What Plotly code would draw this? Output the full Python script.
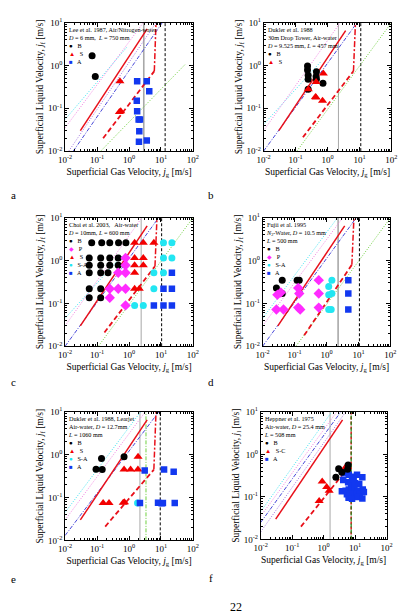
import plotly.graph_objects as go

# ---------------- data ----------------
TICK_X = [0.01, 0.1, 1, 10, 100]
TICK_X_TEXT = ["10<sup>-2</sup>", "10<sup>-1</sup>", "10<sup>0</sup>", "10<sup>1</sup>", "10<sup>2</sup>"]
TICK_Y = [0.01, 0.1, 1, 10]
TICK_Y_TEXT = ["10<sup>-2</sup>", "10<sup>-1</sup>", "10<sup>0</sup>", "10<sup>1</sup>"]

# panel a  (Lee et al. 1987)
a_B_x = [0.07, 0.088]
a_B_y = [1.7, 0.55]
a_S_x = [0.52, 0.50, 0.55]
a_S_y = [0.43, 0.082, 0.085]
a_A_x = [1.8, 3.6, 4.3, 1.75, 1.8, 2.0, 2.2, 2.1, 2.05, 3.6]
a_A_y = [0.43, 0.43, 0.25, 0.15, 0.085, 0.055, 0.055, 0.029, 0.0165, 0.0178]

# panel b  (Dukler et al. 1988, drop tower)
b_B_x = [0.237, 0.237, 0.248, 0.248, 0.45, 0.44, 0.72, 0.248, 0.45]
b_B_y = [0.97, 0.78, 0.59, 0.475, 0.71, 0.55, 0.385, 0.28, 0.48]
b_S_x = [0.74, 0.44, 0.25, 0.42, 0.44, 0.70]
b_S_y = [0.65, 0.41, 0.28, 0.185, 0.18, 0.15]

# panel c  (Choi et al. 2003)
c_B_x = [0.068, 0.14, 0.25, 0.47, 0.8, 0.057, 0.13, 0.25, 0.46, 0.057, 0.13, 0.25, 0.46, 0.057, 0.13, 0.22, 0.057, 0.13, 0.057, 0.13]
c_B_y = [2.6, 2.6, 2.6, 2.6, 2.6, 1.15, 1.15, 1.15, 1.15, 0.78, 0.78, 0.78, 0.78, 0.52, 0.52, 0.52, 0.22, 0.22, 0.136, 0.136]
c_P_x = [0.78, 0.78, 0.46, 0.78, 0.25, 0.46, 0.78, 0.25, 0.78]
c_P_y = [1.15, 0.78, 0.52, 0.52, 0.22, 0.22, 0.22, 0.136, 0.09]
c_S_x = [1.5, 2.8, 6.0, 1.5, 2.8, 1.5, 2.8, 1.5, 1.5, 2.1]
c_S_y = [2.6, 2.6, 2.6, 1.15, 1.15, 0.78, 0.78, 0.52, 0.22, 0.22]
c_SA_x = [12, 22, 12, 22, 6.0, 12, 6.0, 1.5, 2.8]
c_SA_y = [2.6, 2.6, 1.15, 1.15, 0.52, 0.52, 0.22, 0.09, 0.09]
c_A_x = [22, 12, 22, 6.0, 12, 22]
c_A_y = [0.52, 0.22, 0.22, 0.09, 0.09, 0.09]

# panel d  (Fujii et al. 1995)
d_B_x = [0.041, 0.027, 0.041, 0.12, 0.14]
d_B_y = [0.35, 0.23, 0.17, 0.35, 0.35]
d_P_x = [0.029, 0.037, 0.027, 0.045, 0.13, 0.14, 0.13, 0.15, 0.57, 0.57, 0.57]
d_P_y = [0.16, 0.18, 0.072, 0.072, 0.23, 0.17, 0.08, 0.072, 0.35, 0.17, 0.08]
d_SA_x = [1.47, 1.17, 1.47, 1.17, 1.4, 1.17]
d_SA_y = [0.35, 0.25, 0.17, 0.16, 0.072, 0.072]
d_A_x = [4.8, 4.8, 4.8]
d_A_y = [0.35, 0.17, 0.072]

# panel e  (Dukler et al. 1988, Learjet)
e_B_x = [0.138, 0.70, 0.093, 0.145]
e_B_y = [0.82, 0.90, 0.46, 0.45]
e_S_x = [1.92, 0.70, 1.12, 1.9, 0.155, 0.237, 0.66, 0.72]
e_S_y = [0.90, 0.45, 0.45, 0.45, 0.075, 0.075, 0.076, 0.078]
e_SA_x = [1.85]
e_SA_y = [0.075]
e_A_x = [3.1, 12.5, 25, 2.2, 8.1, 10.5, 11.5, 27]
e_A_y = [0.43, 0.45, 0.40, 0.075, 0.076, 0.074, 0.075, 0.075]

# panel f  (Heppner et al. 1975)
f_B_x = [2.45, 3.0, 3.8, 5.8, 6.0]
f_B_y = [0.29, 0.46, 0.38, 0.45, 0.56]
f_S_x = [0.9, 1.25, 1.5, 0.72, 5.0]
f_S_y = [0.23, 0.17, 0.14, 0.08, 0.5]
f_A_x = [4.6, 5.2, 6.3, 8.0, 11.5, 17, 6.0, 7.5, 10, 13.5, 3.8, 5.0, 6.3, 8.0, 9.5, 12.5, 17.5, 5.5, 7.0, 8.5, 11, 14, 19, 6.2, 8.0, 12.5, 17, 9.0, 4.2]
f_A_y = [0.36, 0.40, 0.33, 0.30, 0.33, 0.29, 0.22, 0.20, 0.21, 0.20, 0.135, 0.14, 0.15, 0.14, 0.16, 0.14, 0.15, 0.115, 0.12, 0.11, 0.12, 0.115, 0.13, 0.095, 0.09, 0.10, 0.092, 0.26, 0.25]

# transition lines [x0, x1], [y0, y1]
a_cyan = ([0.01, 0.9], [0.055, 2.8])
a_pink = ([0.01, 2.8], [0.035, 10])
a_red = ([0.03, 3.7], [0.03, 7.2])
a_purple = ([0.013, 7.0], [0.01, 10])
a_blue = ([0.018, 11.0], [0.01, 10])
a_rdash = ([0.155, 6.2], [0.02, 0.74])
a_rvert = ([6.2, 7.0], [0.74, 10])
a_green = ([0.13, 60], [0.01, 1.1])
a_gray = 2.9
a_black = 13.5

b_cyan = ([0.01, 0.6], [0.042, 1.2])
b_pink = ([0.01, 2.5], [0.03, 10])
b_red = ([0.03, 3.7], [0.03, 6.5])
b_blue = ([0.01, 8.0], [0.01, 9.5])
b_rdash = ([0.17, 6.5], [0.021, 0.74])
b_rvert = ([6.5, 7.5], [0.74, 10])
b_green = ([0.11, 100], [0.01, 10])
b_gray = 2.2
b_black = 11

c_cyan = ([0.01, 0.6], [0.045, 1.3])
c_pink = ([0.01, 2.5], [0.03, 10])
c_red = ([0.03, 3.7], [0.03, 6.5])
c_blue = ([0.01, 8.0], [0.01, 9.5])
c_rdash = ([0.17, 6.5], [0.021, 0.74])
c_rvert = ([6.5, 7.5], [0.74, 10])
c_green = ([0.11, 100], [0.01, 10])
c_gray = 2.4
c_black = 10.5

d_cyan = ([0.01, 2.2], [0.045, 10])
d_pink = ([0.01, 3.2], [0.03, 10])
d_red = ([0.03, 3.7], [0.03, 6.5])
d_blue = ([0.01, 8.5], [0.01, 10])
d_rdash = ([0.2, 6.2], [0.018, 0.8])
d_rvert = ([6.2, 7.2], [0.8, 10])
d_green = ([0.11, 100], [0.01, 10])
d_gray = 2.3
d_black = 10.7

e_cyan = ([0.01, 2.3], [0.045, 10])
e_pink = ([0.01, 3.2], [0.03, 10])
e_red = ([0.03, 3.7], [0.03, 6.5])
e_blue = ([0.01, 8.5], [0.013, 10])
e_rdash = ([0.18, 6.0], [0.021, 0.45])
e_rvert = ([6.0, 7.0], [0.45, 10])
e_green_v = 3.4
e_gray = 2.2
e_black = 9.5

f_cyan = ([0.01, 1.8], [0.045, 10])
f_pink = ([0.01, 2.6], [0.035, 10])
f_blue = ([0.01, 3.5], [0.025, 10])
f_red = ([0.03, 4.0], [0.03, 6.5])
f_purple = ([0.01, 5.0], [0.015, 10])
f_rdash = ([0.19, 7.5], [0.02, 0.6])
f_gray = 1.6
f_black = 7.5

# ---------------- styles ----------------
SERIF = "Liberation Serif"
COL_B = "#000000"
COL_S = "#f20000"
COL_A = "#1238f0"
COL_P = "#ff2bff"
COL_SA = "#22e6f2"

CYAN_L = "#3fe0f0"
PINK_L = "#f07ee0"
RED_L = "#e8101a"
PURP_L = "#a070e0"
BLUE_L = "#4848d8"
GREEN_L = "#70d040"
GRAY_L = "#a8a8a8"

DOT = "1px,1.6px"
DASHDOT = "4px,1.5px,1px,1.5px"
RDASH = "5px,3px"
RDASHDOT = "6px,2px,2px,2px"
KDASH = "3px,2px"

W, H = 410, 614
# plot boxes in pixels: (left, right, top, bottom)
BOXES = {
    1: (60, 192, 16, 147),
    2: (265, 397, 16, 147),
    3: (60, 192, 215, 346),
    4: (264, 396, 215, 346),
    5: (60, 192, 413, 544),
    6: (262, 392, 413, 543),
}

fig = go.Figure()


def ax_names(i):
    return ("x" if i == 1 else f"x{i}"), ("y" if i == 1 else f"y{i}")


def add_line(i, xy, color, dash, width=1.0):
    xa, ya = ax_names(i)
    fig.add_trace(go.Scatter(x=xy[0], y=xy[1], mode="lines", xaxis=xa, yaxis=ya,
                             line=dict(color=color, dash=dash, width=width),
                             showlegend=False, hoverinfo="skip"))


def add_vline(i, xv, color, dash, width=1.0):
    add_line(i, ([xv, xv], [0.01, 10]), color, dash, width)


def add_pts(i, xs, ys, color, symbol, size):
    xa, ya = ax_names(i)
    fig.add_trace(go.Scatter(x=xs, y=ys, mode="markers", xaxis=xa, yaxis=ya,
                             marker=dict(color=color, symbol=symbol, size=size, line=dict(width=0)),
                             showlegend=False))


# lines
for i, (cy, pk, rd, bl, rdash, rvert, gr, gy, bk) in {
    1: (a_cyan, a_pink, a_red, a_blue, a_rdash, a_rvert, a_green, a_gray, a_black),
    2: (b_cyan, b_pink, b_red, b_blue, b_rdash, b_rvert, b_green, b_gray, b_black),
    3: (c_cyan, c_pink, c_red, c_blue, c_rdash, c_rvert, c_green, c_gray, c_black),
    4: (d_cyan, d_pink, d_red, d_blue, d_rdash, d_rvert, d_green, d_gray, d_black),
}.items():
    add_vline(i, gy, GRAY_L, "solid", 1.6 if i in (1, 4) else 1.0)
    add_vline(i, bk, "#000000", KDASH, 1.0)
    add_line(i, cy, CYAN_L, DOT)
    add_line(i, pk, PINK_L, DOT)
    add_line(i, bl, BLUE_L, DASHDOT)
    add_line(i, gr, GREEN_L, DOT)
    add_line(i, rd, RED_L, "solid", 1.5)
    add_line(i, rdash, RED_L, RDASH, 1.8)
    add_line(i, rvert, RED_L, RDASHDOT, 1.5)
add_line(1, a_purple, PURP_L, DOT)

# panel e
add_vline(5, e_gray, GRAY_L, "solid")
add_vline(5, e_black, "#000000", KDASH)
add_vline(5, e_green_v, GREEN_L, DASHDOT)
add_line(5, e_cyan, CYAN_L, DOT)
add_line(5, e_pink, PINK_L, DOT)
add_line(5, e_blue, BLUE_L, DASHDOT)
add_line(5, e_red, RED_L, "solid", 1.5)
add_line(5, e_rdash, RED_L, RDASH, 1.8)
add_line(5, e_rvert, RED_L, RDASHDOT, 1.5)

# panel f
add_vline(6, f_gray, GRAY_L, "solid")
add_line(6, f_cyan, CYAN_L, DOT)
add_line(6, f_pink, PINK_L, DOT)
add_line(6, f_blue, BLUE_L, DASHDOT)
add_line(6, f_purple, PURP_L, DOT)
add_line(6, f_red, RED_L, "solid", 1.5)
add_line(6, f_rdash, RED_L, RDASH, 1.8)
add_vline(6, f_black, RED_L, KDASH, 1.5)
add_vline(6, f_black, "#1a8a1a", "4px,2px", 1.2)

# points
add_pts(1, a_B_x, a_B_y, COL_B, "circle", 7)
add_pts(1, a_S_x, a_S_y, COL_S, "triangle-up", 8)
add_pts(1, a_A_x, a_A_y, COL_A, "square", 6.5)

add_pts(2, b_B_x, b_B_y, COL_B, "circle", 7)
add_pts(2, b_S_x, b_S_y, COL_S, "triangle-up", 8)

add_pts(3, c_B_x, c_B_y, COL_B, "circle", 7)
add_pts(3, c_P_x, c_P_y, COL_P, "diamond", 8)
add_pts(3, c_S_x, c_S_y, COL_S, "triangle-up", 8)
add_pts(3, c_SA_x, c_SA_y, COL_SA, "circle", 7)
add_pts(3, c_A_x, c_A_y, COL_A, "square", 6.5)

add_pts(4, d_B_x, d_B_y, COL_B, "circle", 7)
add_pts(4, d_P_x, d_P_y, COL_P, "diamond", 8)
add_pts(4, d_SA_x, d_SA_y, COL_SA, "circle", 7)
add_pts(4, d_A_x, d_A_y, COL_A, "square", 6.5)

add_pts(5, e_B_x, e_B_y, COL_B, "circle", 7)
add_pts(5, e_S_x, e_S_y, COL_S, "triangle-up", 8)
add_pts(5, e_SA_x, e_SA_y, COL_SA, "circle", 7)
add_pts(5, e_A_x, e_A_y, COL_A, "square", 6.5)

add_pts(6, f_A_x, f_A_y, COL_A, "square", 6.5)
add_pts(6, f_S_x, f_S_y, COL_S, "triangle-up", 8)
add_pts(6, f_B_x, f_B_y, COL_B, "circle", 7)

# axes
layout = dict(width=W, height=H, margin=dict(l=0, r=0, t=0, b=0),
              paper_bgcolor="white", plot_bgcolor="white", showlegend=False,
              font=dict(family=SERIF, color="black"))
for i, (l, r, t, b) in BOXES.items():
    xk = "xaxis" if i == 1 else f"xaxis{i}"
    yk = "yaxis" if i == 1 else f"yaxis{i}"
    xa, ya = ax_names(i)
    common = dict(type="log", showline=True, linecolor="black", linewidth=1, mirror="allticks",
                  ticks="inside", ticklen=4, tickwidth=0.8, tickcolor="black", showgrid=False,
                  zeroline=False, tickfont=dict(family=SERIF, size=9),
                  minor=dict(ticks="inside", ticklen=2, tickwidth=0.6, tickcolor="black", dtick="D1", showgrid=False))
    ylab = "Superficial Liquid Velocity, <i>j</i><sub>f</sub> [m/s]" if i != 6 else "Superficial Liquid Velocity, <i>j</i><sub>l</sub> [m/s]"
    layout[xk] = dict(common, domain=[l / W, r / W], range=[-2, 2], anchor=ya,
                      tickmode="array", tickvals=TICK_X, ticktext=TICK_X_TEXT,
                      title=dict(text="Superficial Gas Velocity, <i>j</i><sub>g</sub> [m/s]",
                                 font=dict(family=SERIF, size=9.5), standoff=4))
    layout[yk] = dict(common, domain=[1 - b / H, 1 - t / H], range=[-2, 1], anchor=xa,
                      tickmode="array", tickvals=TICK_Y, ticktext=TICK_Y_TEXT,
                      title=dict(text=ylab, font=dict(family=SERIF, size=9.5), standoff=2))

fig.update_layout(**layout)

# info boxes
def sym(c, s):
    return f"<span style='color:{c}'>{s}</span>"

INFO = {
    1: "Lee et al. 1987, Air/Nitrogen-water<br><i>D</i> = 6 mm,  <i>L</i> = 750 mm<br>"
       + sym(COL_B, "●") + "   B<br>" + sym(COL_S, "▲") + "   S<br>" + sym(COL_A, "■") + "   A",
    2: "Dukler et al. 1988<br>30m Drop Tower, Air-water<br><i>D</i> = 9.525 mm, <i>L</i> = 457 mm<br>"
       + sym(COL_B, "●") + "   B<br>" + sym(COL_S, "▲") + "   S",
    3: "Choi et al. 2003,   Air-water<br><i>D</i> = 10mm, <i>L</i> = 600 mm<br>"
       + sym(COL_B, "●") + "   B<br>" + sym(COL_P, "◆") + "   P<br>" + sym(COL_S, "▲") + "   S<br>"
       + sym(COL_SA, "●") + "   S-A<br>" + sym(COL_A, "■") + "   A",
    4: "Fujii et al. 1995<br><i>N</i><sub>2</sub>-Water, <i>D</i> = 10.5 mm<br><i>L</i> = 500 mm<br>"
       + sym(COL_B, "●") + "   B<br>" + sym(COL_P, "◆") + "   P<br>" + sym(COL_SA, "●") + "   S-A<br>"
       + sym(COL_A, "■") + "   A",
    5: "Dukler et al. 1988, Learjet<br>Air-water, <i>D</i> = 12.7mm<br><i>L</i> = 1060 mm<br>"
       + sym(COL_B, "●") + "   B<br>" + sym(COL_S, "▲") + "   S<br>" + sym(COL_SA, "●") + "   S-A<br>"
       + sym(COL_A, "■") + "   A",
    6: "Heppner et al. 1975<br>Air-water, <i>D</i> = 25.4 mm<br><i>L</i> = 508 mm<br>"
       + sym(COL_B, "●") + "   B<br>" + sym(COL_S, "▲") + "   S-C<br>" + sym(COL_A, "■") + "   A",
}
annotations = []
for i, txt in INFO.items():
    l, r, t, b = BOXES[i]
    annotations.append(dict(x=(l + 2) / W, y=1 - (t + 2) / H, xref="paper", yref="paper",
                            xanchor="left", yanchor="top", align="left", showarrow=False,
                            text=txt, font=dict(family=SERIF, size=6.2, color="black"),
                            borderpad=0))

LETTERS = [("a", 7, 192), ("b", 211, 192), ("c", 7, 382), ("d", 211, 382), ("e", 7, 583), ("f", 211, 582)]
for s, px, py in LETTERS:
    annotations.append(dict(x=px / W, y=1 - py / H, xref="paper", yref="paper", text=s,
                            showarrow=False, font=dict(family=SERIF, size=11), xanchor="center", yanchor="middle"))
annotations.append(dict(x=236 / W, y=1 - 612 / H, xref="paper", yref="paper", text="22",
                        showarrow=False, font=dict(family=SERIF, size=12), xanchor="center", yanchor="middle"))
fig.update_layout(annotations=annotations)

fig.write_html("out.html")
